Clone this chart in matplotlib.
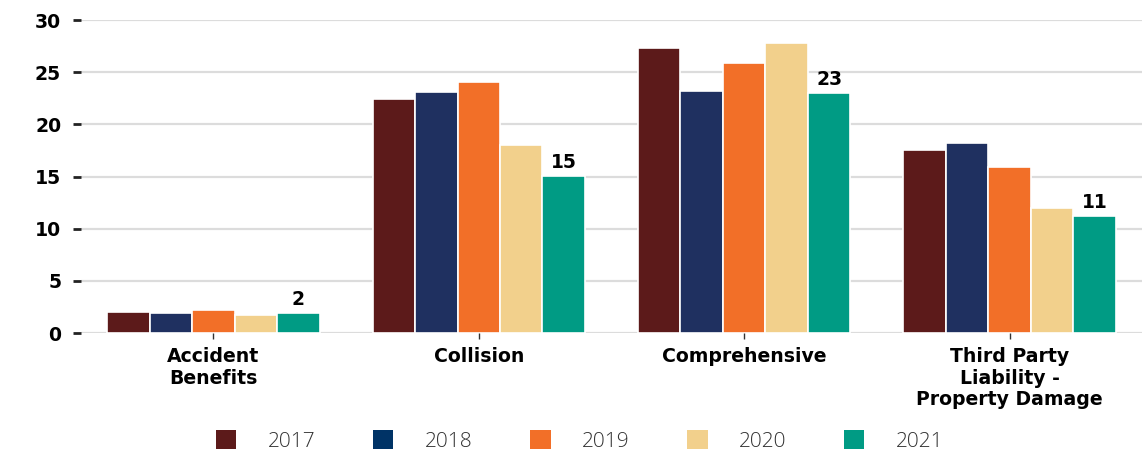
import numpy as np
import matplotlib.pyplot as plt
from matplotlib.patches import Patch

categories = ['Accident\nBenefits', 'Collision', 'Comprehensive',
              'Third Party\nLiability -\nProperty Damage']
years = ['2017', '2018', '2019', '2020', '2021']
v2017 = [2.0, 22.4, 27.3, 17.5]
v2018 = [1.9, 23.1, 23.2, 18.2]
v2019 = [2.2, 24.1, 25.9, 15.9]
v2020 = [1.7, 18.0, 27.8, 12.0]
v2021 = [1.95, 15.05, 23.0, 11.2]
series = [v2017, v2018, v2019, v2020, v2021]

bar_colors = ['#5c1a1a', '#1f3060', '#f26f28', '#f2d08c', '#009b84']
legend_colors = ['#5c1a1a', '#003366', '#f26f28', '#f2d08c', '#009b84']

fig = plt.figure(figsize=(11.44, 4.55), dpi=100)
ax = fig.add_axes([0.0705, 0.268, 0.928, 0.688])

x = np.arange(len(categories))
w = 0.16
for i, vals in enumerate(series):
    pos = x + (i - 2) * w
    bars = ax.bar(pos, vals, width=w, color=bar_colors[i],
                  edgecolor='white', linewidth=1.2, zorder=3)
    if i == len(series) - 1:
        for b, v in zip(bars, vals):
            ax.text(b.get_x() + b.get_width() / 2, v + 0.4, f'{v:.0f}',
                    ha='center', va='bottom', fontsize=13.5,
                    fontweight='bold', zorder=4)

ax.set_xlim(-0.5, 3.5)
ax.set_ylim(0, 30)
ax.set_yticks(range(0, 31, 5))
ax.grid(axis='y', color='#dcdcdc', linewidth=1.6, zorder=0)
for s in ax.spines.values():
    s.set_visible(False)

ax.set_xticks(x)
ax.set_xticklabels(categories, fontsize=13.6, fontweight='bold',
                   linespacing=1.18)
ax.tick_params(axis='x', length=4, width=1, color='#333333', pad=6)
ax.tick_params(axis='y', length=6, width=2, color='#222222', pad=8,
               labelsize=13.6)
for lbl in ax.get_yticklabels():
    lbl.set_fontweight('bold')

handles = [Patch(facecolor=c, edgecolor='none') for c in legend_colors]
leg = fig.legend(handles, years, loc='center', bbox_to_anchor=(0.5065, 0.031),
                 ncol=5, frameon=False, handlelength=1.0, handleheight=1.0,
                 handletextpad=1.5, columnspacing=2.75,
                 prop={'family': 'Open Sans', 'size': 15, 'weight': 'light'})
for t in leg.get_texts():
    t.set_color('#333333')

fig.savefig('out.png', dpi=100)
